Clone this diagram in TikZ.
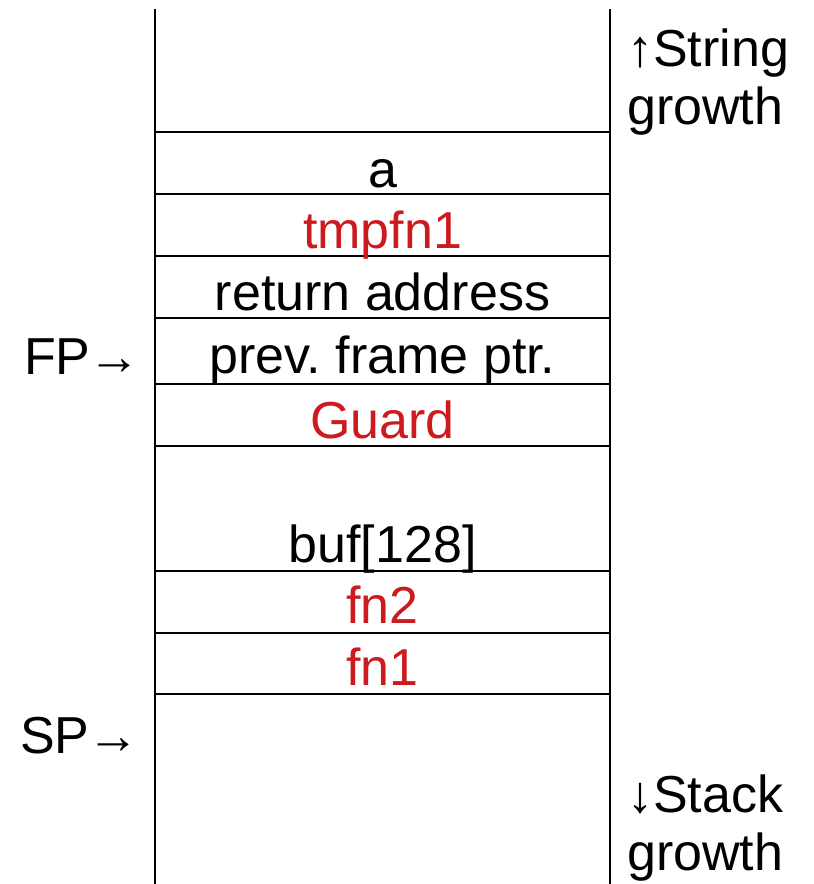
\documentclass[tikz,border=0pt]{standalone}
\usepackage{fontspec}
\setmainfont{Liberation Sans}
\usetikzlibrary{positioning}
\definecolor{guardred}{RGB}{204,26,30}
\frenchspacing

\begin{document}
\begin{tikzpicture}[x=1pt, y=-1pt, font=\fontsize{52}{58}\selectfont,
    cell/.style={anchor=base, inner sep=0pt},
    side/.style={anchor=base west, inner sep=0pt, align=left}]
        \useasboundingbox (0,0) rectangle (814,884);

        % Stack frame borders
        \coordinate (topL) at (155,9);
        \coordinate (topR) at (610,9);
        \draw[line width=2.6pt] (topL) -- (155,884);
        \draw[line width=2.6pt] (topR) -- (610,884);
        \foreach \y in {132,194,256,318,384,446,571,633,694} {
            \draw[line width=1.6pt] (155,\y) -- (610,\y);
        }

        % Node definitions
        \node (a) [cell] at (382.5,187) {a};
        \node (tmpfn) [cell, text=guardred] at (382.5,248) {tmpfn1};
        \node (ret) [cell] at (382.5,310) {return address};
        \node (prevfp) [cell] at (382.5,373) {prev. frame ptr.};
        \node (guard) [cell, text=guardred] at (382.5,438) {Guard};
        \node (buf) [cell] at (382.5,562) {buf[128]};
        \node (fntwo) [cell, text=guardred] at (382.5,623) {fn2};
        \node (fnone) [cell, text=guardred] at (382.5,685) {fn1};

        % Pointers and growth labels
        \node (fp) [side] at (24,374) {FP\kern-2pt→};
        \node (sp) [side] at (20,753) {SP\kern-2pt→};
        \node (strgrowth) [side] at (627,124) {↑String\\growth};
        \node (stkgrowth) [side] at (627,870) {↓Stack\\growth};
    \end{tikzpicture}
\end{document}
